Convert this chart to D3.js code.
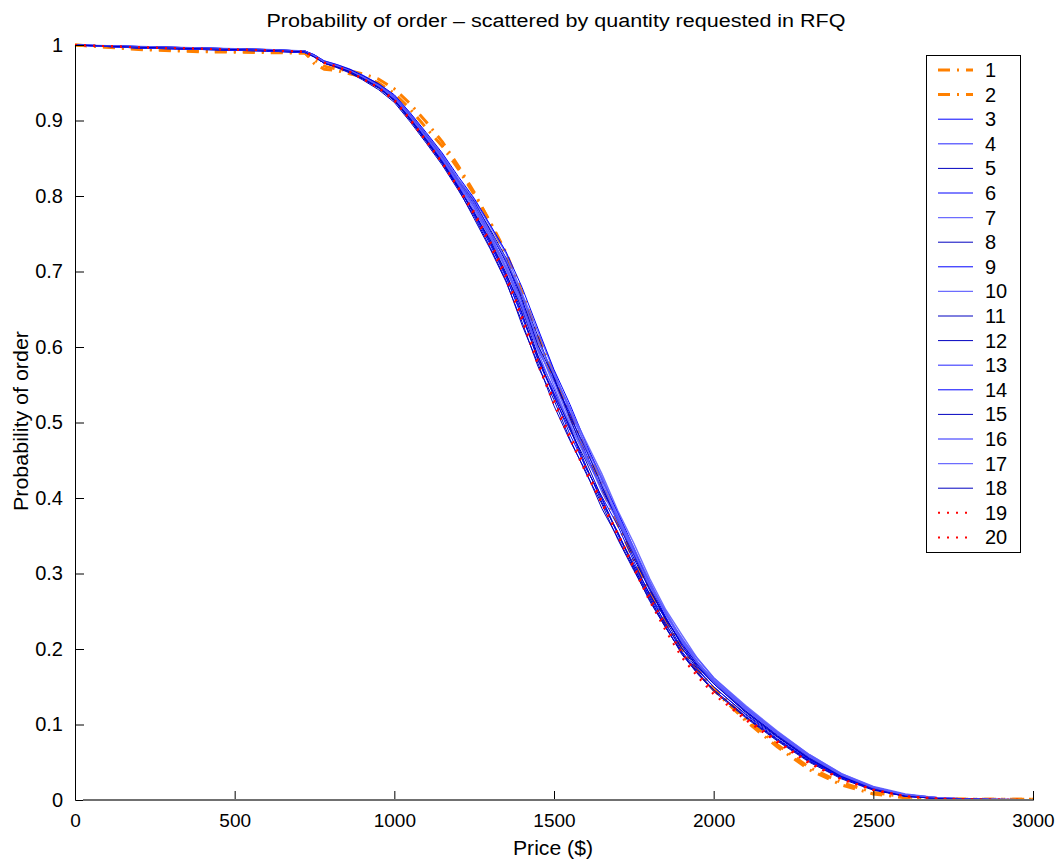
<!DOCTYPE html>
<html><head><meta charset="utf-8">
<script src="https://cdn.jsdelivr.net/npm/d3@7"></script>
<style>body{margin:0;background:#fff;} svg{display:block;}</style>
</head><body>
<svg id="chart" width="1060" height="863"></svg>
<script>
const prices = [0,200,400,600,720,750,780,820,860,900,950,1000,1050,1100,1150,1200,1250,1300,1350,1400,1450,1500,1550,1600,1650,1700,1750,1800,1850,1900,1950,2000,2100,2200,2300,2400,2500,2600,2700,2800,3000];
const s1 = [1.000,0.994,0.991,0.990,0.989,0.980,0.972,0.968,0.966,0.962,0.955,0.942,0.922,0.898,0.872,0.840,0.805,0.765,0.722,0.668,0.610,0.558,0.508,0.460,0.412,0.365,0.318,0.273,0.233,0.198,0.170,0.146,0.105,0.070,0.040,0.020,0.008,0.003,0.001,0.001,0.001];
const s2 = [1.000,0.995,0.992,0.991,0.990,0.975,0.968,0.966,0.962,0.958,0.950,0.936,0.915,0.890,0.866,0.836,0.802,0.766,0.725,0.672,0.615,0.562,0.512,0.465,0.418,0.370,0.322,0.278,0.238,0.200,0.172,0.148,0.108,0.073,0.043,0.023,0.010,0.004,0.002,0.001,0.001];
const s3 = [1.000,0.998,0.996,0.994,0.992,0.987,0.978,0.973,0.967,0.958,0.945,0.928,0.903,0.876,0.848,0.815,0.777,0.738,0.694,0.639,0.588,0.544,0.492,0.439,0.402,0.363,0.316,0.271,0.240,0.209,0.179,0.158,0.121,0.088,0.058,0.033,0.016,0.007,0.002,0.001,0.000];
const s4 = [1.000,0.997,0.995,0.993,0.991,0.986,0.979,0.974,0.968,0.960,0.948,0.933,0.909,0.882,0.855,0.823,0.795,0.760,0.724,0.671,0.620,0.568,0.514,0.469,0.428,0.379,0.330,0.289,0.246,0.209,0.183,0.158,0.123,0.089,0.059,0.034,0.017,0.007,0.003,0.001,0.000];
const s5 = [1.000,0.996,0.994,0.992,0.990,0.984,0.976,0.971,0.964,0.955,0.943,0.926,0.900,0.872,0.843,0.810,0.770,0.730,0.686,0.633,0.574,0.530,0.478,0.433,0.392,0.345,0.304,0.265,0.228,0.195,0.169,0.146,0.110,0.079,0.051,0.029,0.014,0.005,0.002,0.001,0.000];
const s6 = [1.000,0.998,0.996,0.994,0.992,0.986,0.978,0.973,0.967,0.959,0.947,0.931,0.906,0.879,0.851,0.819,0.789,0.750,0.714,0.659,0.596,0.556,0.512,0.459,0.412,0.373,0.324,0.277,0.242,0.205,0.177,0.156,0.118,0.085,0.056,0.032,0.016,0.006,0.002,0.001,0.000];
const s7 = [1.000,0.997,0.995,0.993,0.991,0.985,0.977,0.972,0.965,0.957,0.945,0.929,0.904,0.877,0.849,0.817,0.785,0.744,0.706,0.649,0.598,0.554,0.502,0.463,0.420,0.371,0.332,0.287,0.250,0.213,0.187,0.162,0.125,0.091,0.060,0.035,0.017,0.007,0.003,0.001,0.000];
const s8 = [1.000,0.996,0.994,0.992,0.990,0.984,0.976,0.970,0.963,0.954,0.941,0.924,0.898,0.870,0.841,0.808,0.773,0.732,0.688,0.629,0.578,0.522,0.476,0.435,0.386,0.347,0.306,0.263,0.228,0.195,0.167,0.146,0.111,0.080,0.052,0.030,0.014,0.005,0.002,0.001,0.000];
const s9 = [1.000,0.998,0.996,0.994,0.992,0.987,0.979,0.974,0.968,0.960,0.949,0.934,0.910,0.884,0.857,0.826,0.797,0.762,0.726,0.679,0.624,0.570,0.524,0.473,0.424,0.381,0.334,0.285,0.242,0.205,0.175,0.154,0.117,0.084,0.055,0.032,0.015,0.006,0.002,0.001,0.000];
const s10 = [1.000,0.997,0.995,0.993,0.991,0.985,0.977,0.972,0.966,0.958,0.946,0.930,0.905,0.878,0.850,0.818,0.785,0.750,0.704,0.661,0.608,0.562,0.518,0.475,0.432,0.383,0.340,0.293,0.252,0.219,0.187,0.162,0.123,0.090,0.060,0.035,0.018,0.008,0.003,0.001,0.000];
const s11 = [1.000,0.997,0.995,0.993,0.991,0.984,0.976,0.971,0.965,0.956,0.944,0.927,0.901,0.873,0.844,0.811,0.779,0.740,0.696,0.651,0.588,0.534,0.490,0.449,0.400,0.353,0.312,0.273,0.232,0.201,0.173,0.150,0.114,0.083,0.054,0.031,0.015,0.006,0.002,0.001,0.000];
const s12 = [1.000,0.998,0.996,0.994,0.992,0.986,0.978,0.973,0.967,0.959,0.948,0.932,0.908,0.881,0.853,0.821,0.793,0.754,0.712,0.667,0.614,0.558,0.506,0.453,0.412,0.369,0.320,0.279,0.238,0.201,0.177,0.154,0.116,0.084,0.054,0.031,0.015,0.006,0.002,0.001,0.000];
const s13 = [1.000,0.997,0.995,0.993,0.991,0.985,0.977,0.972,0.966,0.957,0.945,0.929,0.903,0.876,0.847,0.815,0.781,0.746,0.702,0.655,0.602,0.548,0.496,0.453,0.414,0.375,0.326,0.287,0.246,0.215,0.183,0.158,0.121,0.088,0.058,0.033,0.017,0.007,0.003,0.001,0.000];
const s14 = [1.000,0.996,0.994,0.992,0.990,0.985,0.977,0.972,0.965,0.957,0.945,0.928,0.903,0.875,0.846,0.813,0.775,0.736,0.692,0.643,0.582,0.536,0.484,0.441,0.398,0.351,0.310,0.269,0.234,0.197,0.171,0.150,0.113,0.081,0.053,0.030,0.014,0.005,0.002,0.001,0.000];
const s15 = [1.000,0.997,0.995,0.993,0.991,0.986,0.978,0.973,0.967,0.959,0.947,0.931,0.907,0.880,0.852,0.820,0.791,0.756,0.718,0.663,0.602,0.560,0.508,0.465,0.416,0.367,0.326,0.281,0.240,0.207,0.179,0.156,0.118,0.086,0.056,0.032,0.016,0.006,0.002,0.001,0.000];
const s16 = [1.000,0.998,0.996,0.994,0.992,0.986,0.978,0.973,0.966,0.958,0.946,0.930,0.905,0.878,0.850,0.818,0.787,0.746,0.710,0.653,0.594,0.540,0.498,0.457,0.408,0.369,0.328,0.283,0.248,0.211,0.181,0.156,0.120,0.087,0.057,0.033,0.016,0.007,0.002,0.001,0.000];
const s17 = [1.000,0.997,0.995,0.993,0.991,0.985,0.977,0.972,0.966,0.958,0.947,0.932,0.908,0.881,0.853,0.821,0.791,0.752,0.716,0.669,0.608,0.564,0.520,0.467,0.426,0.375,0.334,0.289,0.246,0.213,0.181,0.160,0.121,0.088,0.058,0.034,0.017,0.007,0.003,0.001,0.000];
const s18 = [1.000,0.997,0.995,0.993,0.991,0.984,0.976,0.971,0.965,0.956,0.944,0.927,0.902,0.874,0.845,0.812,0.777,0.742,0.698,0.645,0.584,0.538,0.494,0.443,0.394,0.355,0.308,0.267,0.230,0.193,0.167,0.144,0.109,0.078,0.050,0.028,0.013,0.005,0.002,0.001,0.000];
const s19 = [1.000,0.997,0.995,0.993,0.991,0.984,0.976,0.971,0.964,0.955,0.943,0.926,0.900,0.872,0.843,0.810,0.775,0.734,0.690,0.635,0.576,0.524,0.478,0.433,0.392,0.349,0.306,0.263,0.224,0.189,0.163,0.140,0.106,0.076,0.048,0.027,0.013,0.005,0.002,0.001,0.000];
const s20 = [1.000,0.997,0.995,0.993,0.991,0.985,0.977,0.972,0.965,0.956,0.944,0.928,0.902,0.874,0.845,0.812,0.779,0.740,0.696,0.641,0.582,0.530,0.484,0.439,0.396,0.353,0.310,0.269,0.230,0.195,0.167,0.144,0.109,0.078,0.050,0.028,0.014,0.005,0.002,0.001,0.000];
const seriesValues = [s1,s2,s3,s4,s5,s6,s7,s8,s9,s10,s11,s12,s13,s14,s15,s16,s17,s18,s19,s20];
const seriesNames = ["1","2","3","4","5","6","7","8","9","10","11","12","13","14","15","16","17","18","19","20"];
const xTicks = [0,500,1000,1500,2000,2500,3000];
const yTicks = [0,0.1,0.2,0.3,0.4,0.5,0.6,0.7,0.8,0.9,1];

// styles per series
const orange = {stroke:"#ff8000", width:3, dash:"12,7,2,7", opacity:1};
const red = {stroke:"#ff0000", width:2, dash:"2,7", opacity:1};
const bLight = {stroke:"#5c5cff", width:1.4, dash:null, opacity:0.9};
const bMid = {stroke:"#0000ff", width:1, dash:null, opacity:1};
const bDark = {stroke:"#0000c0", width:1, dash:null, opacity:1};
const styleKinds = [orange,orange,bMid,bLight,bDark,bMid,bLight,bDark,bMid,bLight,bDark,bDark,bLight,bMid,bDark,bLight,bLight,bDark,red,red];

const svg = d3.select("#chart");
const x = d3.scaleLinear().domain([0,3000]).range([75,1033]);
const y = d3.scaleLinear().domain([0,1]).range([800,45]);
const font = "'Liberation Sans', Arial, Helvetica, sans-serif";

// series
const line = d3.line().x((d,i)=>x(prices[i])).y(d=>y(d));
const gLines = svg.append("g");
seriesValues.forEach((vals,i)=>{
  const st = styleKinds[i];
  gLines.append("path").datum(vals)
    .attr("d", line).attr("fill","none")
    .attr("stroke", st.stroke).attr("stroke-width", st.width)
    .attr("stroke-opacity", st.opacity)
    .attr("stroke-dasharray", st.dash)
    .attr("stroke-linejoin","round");
});

// axes
const xAxis = d3.axisBottom(x).tickValues(xTicks).tickSize(0).tickPadding(14).tickFormat(d3.format("d"));
const gx = svg.append("g").attr("transform","translate(0,800)").call(xAxis);
gx.select(".domain").attr("stroke","#000").attr("stroke-width",1);
gx.selectAll("text").attr("font-family",font).attr("font-size",19).attr("fill","#000");
gx.selectAll(".tick").append("line").attr("y1",0).attr("y2",-9).attr("stroke","#000");

const yAxis = d3.axisLeft(y).tickValues(yTicks).tickSize(0).tickPadding(12).tickFormat(d=> d===0||d===1 ? String(d) : d3.format(".1f")(d));
const gy = svg.append("g").attr("transform","translate(75,0)").call(yAxis);
gy.select(".domain").attr("stroke","#000").attr("stroke-width",1);
gy.selectAll("text").attr("font-family",font).attr("font-size",20).attr("fill","#000");
gy.selectAll(".tick").filter(d=>d>0).append("line").attr("x1",0).attr("x2",9).attr("stroke","#000");

// gray baseline
svg.append("line").attr("x1",x(25)).attr("x2",x(3000)).attr("y1",y(0)).attr("y2",y(0))
  .attr("stroke","#707070").attr("stroke-width",2.2);

// labels
svg.append("text").attr("x",556).attr("y",27).attr("text-anchor","middle")
  .attr("font-family",font).attr("font-size",18)
  .attr("textLength",579).attr("lengthAdjust","spacingAndGlyphs")
  .text("Probability of order \u2013 scattered by quantity requested in RFQ");
svg.append("text").attr("x",553).attr("y",855).attr("text-anchor","middle")
  .attr("font-family",font).attr("font-size",20)
  .attr("textLength",80).attr("lengthAdjust","spacingAndGlyphs").text("Price ($)");
svg.append("text").attr("transform","translate(28,421) rotate(-90)").attr("text-anchor","middle")
  .attr("font-family",font).attr("font-size",20)
  .attr("textLength",180).attr("lengthAdjust","spacingAndGlyphs").text("Probability of order");

// legend
const lg = svg.append("g");
lg.append("rect").attr("x",926.5).attr("y",55.5).attr("width",94).attr("height",497)
  .attr("fill","#fff").attr("stroke","#000").attr("stroke-width",1);
seriesNames.forEach((name,i)=>{
  const st = styleKinds[i];
  const yy = 70 + i*24.6;
  lg.append("line").attr("x1",938).attr("x2",973).attr("y1",yy).attr("y2",yy)
    .attr("stroke",st.stroke).attr("stroke-width",st.width).attr("stroke-opacity",st.opacity)
    .attr("stroke-dasharray", st.dash);
  lg.append("text").attr("x",985).attr("y",yy+7).attr("font-family",font).attr("font-size",20).text(name);
});
</script>
</body></html>
